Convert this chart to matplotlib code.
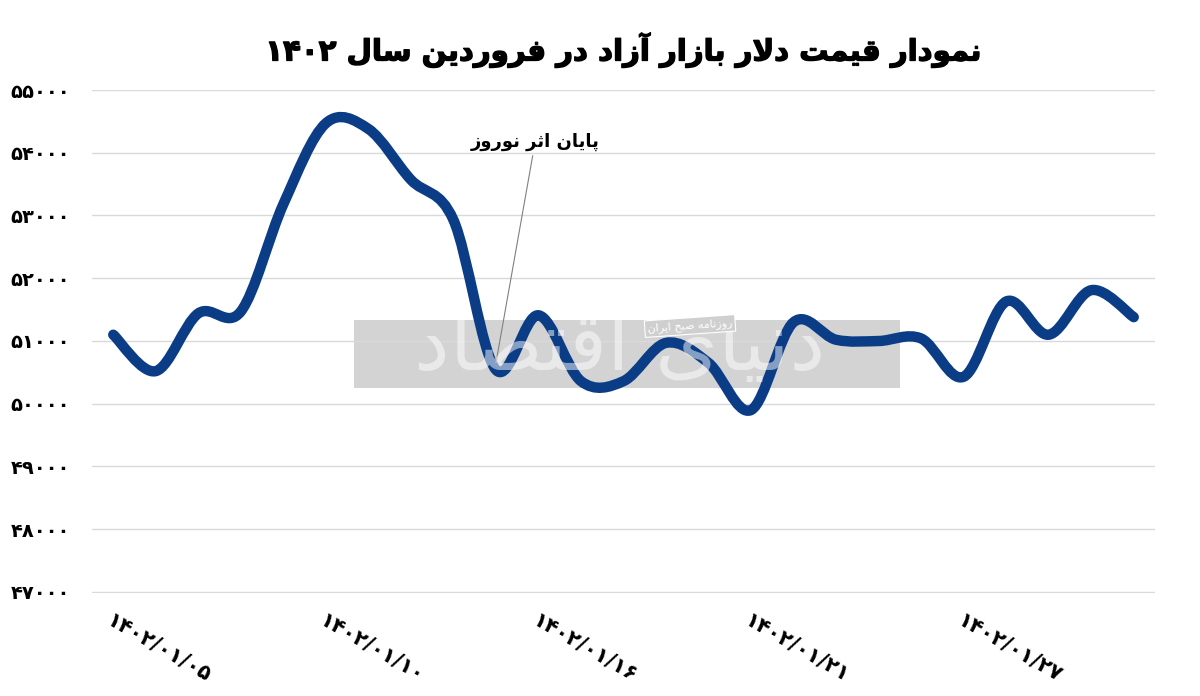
import re
import matplotlib
matplotlib.use("Agg")
import matplotlib.pyplot as plt
import matplotlib.patheffects as pe
from matplotlib.path import Path
from matplotlib.patches import PathPatch, Rectangle
from matplotlib.ticker import FuncFormatter

# ---------------- data ----------------
dates = ["1402/01/05", "1402/01/06", "1402/01/07", "1402/01/08", "1402/01/09",
         "1402/01/10", "1402/01/11", "1402/01/12", "1402/01/14", "1402/01/15",
         "1402/01/16", "1402/01/17", "1402/01/18", "1402/01/19", "1402/01/20",
         "1402/01/21", "1402/01/22", "1402/01/23", "1402/01/24", "1402/01/26",
         "1402/01/27", "1402/01/28", "1402/01/29", "1402/01/30", "1402/01/31"]
prices = [51100, 50520, 51440, 51470, 53180, 54470, 54380, 53570, 52930, 50540,
          51410, 50360, 50360, 50970, 50650, 49900, 51300, 51020, 51000, 51040,
          50430, 51630, 51100, 51810, 51380]
y_ticks = [47000, 48000, 49000, 50000, 51000, 52000, 53000, 54000, 55000]
label_every = 5
title_text = "نمودار قیمت دلار بازار آزاد در فروردین سال 1402"
note_text = "پایان اثر نوروز"
note_index = 9
watermark_big = "دنیای اقتصاد"
watermark_small = "روزنامه صبح ایران"

# ---------------- Persian shaping helpers ----------------
FA_DIGITS = str.maketrans("0123456789", "۰۱۲۳۴۵۶۷۸۹")

FORMS = {
    'ا': (0xFE8D, 0xFE8E, None, None),
    'آ': (0xFE81, 0xFE82, None, None),
    'ب': (0xFE8F, 0xFE90, 0xFE91, 0xFE92),
    'پ': (0xFB56, 0xFB57, 0xFB58, 0xFB59),
    'ت': (0xFE95, 0xFE96, 0xFE97, 0xFE98),
    'ث': (0xFE99, 0xFE9A, 0xFE9B, 0xFE9C),
    'ح': (0xFEA1, 0xFEA2, 0xFEA3, 0xFEA4),
    'د': (0xFEA9, 0xFEAA, None, None),
    'ر': (0xFEAD, 0xFEAE, None, None),
    'ز': (0xFEAF, 0xFEB0, None, None),
    'س': (0xFEB1, 0xFEB2, 0xFEB3, 0xFEB4),
    'ص': (0xFEB9, 0xFEBA, 0xFEBB, 0xFEBC),
    'ف': (0xFED1, 0xFED2, 0xFED3, 0xFED4),
    'ق': (0xFED5, 0xFED6, 0xFED7, 0xFED8),
    'ل': (0xFEDD, 0xFEDE, 0xFEDF, 0xFEE0),
    'م': (0xFEE1, 0xFEE2, 0xFEE3, 0xFEE4),
    'ن': (0xFEE5, 0xFEE6, 0xFEE7, 0xFEE8),
    'ه': (0xFEE9, 0xFEEA, 0xFEEB, 0xFEEC),
    'و': (0xFEED, 0xFEEE, None, None),
    'ی': (0xFBFC, 0xFBFD, 0xFBFE, 0xFBFF),
}


def _dual(c):
    return c in FORMS and FORMS[c][2] is not None


def shape(s):
    out = []
    i, n = 0, len(s)
    while i < n:
        c = s[i]
        prev = s[i - 1] if i > 0 else ''
        if c == 'ل' and i + 1 < n and s[i + 1] in 'اآ':
            jp = _dual(prev)
            if s[i + 1] == 'ا':
                out.append(chr(0xFEFC if jp else 0xFEFB))
            else:
                out.append(chr(0xFEF6 if jp else 0xFEF5))
            i += 2
            continue
        if c not in FORMS:
            out.append(c)
            i += 1
            continue
        nxt = s[i + 1] if i + 1 < n else ''
        jp = _dual(prev)
        jn = _dual(c) and nxt in FORMS
        f = FORMS[c]
        code = f[3] if (jp and jn) else f[1] if jp else f[2] if jn else f[0]
        out.append(chr(code))
        i += 1
    return ''.join(out)


def rtl(s):
    t = shape(s.translate(FA_DIGITS))[::-1]
    return re.sub(r'[۰-۹0-9/]+', lambda m: m.group(0)[::-1], t)


def fa(s):
    return s.translate(FA_DIGITS)


# ---------------- figure ----------------
plt.rcParams['font.family'] = ['DejaVu Sans']
fig = plt.figure(figsize=(12, 6.96), dpi=100)
ax = fig.add_axes([92 / 1200, 1 - 593 / 696, (1155 - 92) / 1200, (593 - 90) / 696])

LINE = '#0b3d87'
GRID = '#d9d9d9'

x = list(range(len(prices)))
ax.set_xlim(-0.5, len(prices) - 0.5)
ax.set_ylim(y_ticks[0] - 16, y_ticks[-1])

# watermark box (behind the line)
ax.add_patch(Rectangle((354 / 1200, 1 - 388 / 696), (900 - 354) / 1200, 68 / 696,
                       transform=fig.transFigure, facecolor='#d3d3d3',
                       edgecolor='none', zorder=0.2, clip_on=False))

# smoothed line (Excel-like Catmull-Rom Bezier)
pts = list(zip(x, prices))
verts = [pts[0]]
codes = [Path.MOVETO]
for i in range(len(pts) - 1):
    p0 = pts[i - 1] if i > 0 else pts[i]
    p1 = pts[i]
    p2 = pts[i + 1]
    p3 = pts[i + 2] if i + 2 < len(pts) else pts[i + 1]
    c1 = (p1[0] + (p2[0] - p0[0]) / 6, p1[1] + (p2[1] - p0[1]) / 6)
    c2 = (p2[0] - (p3[0] - p1[0]) / 6, p2[1] - (p3[1] - p1[1]) / 6)
    verts += [c1, c2, p2]
    codes += [Path.CURVE4] * 3
ax.add_patch(PathPatch(Path(verts, codes), fill=False, edgecolor=LINE,
                       lw=7.5, capstyle='round', joinstyle='round', zorder=3))

# grid & axes styling
ax.set_yticks(y_ticks)
ax.yaxis.set_major_formatter(FuncFormatter(lambda v, p: fa(f"{int(v)}")))
ax.grid(axis='y', color=GRID, lw=1.0, zorder=0.5)
ax.set_axisbelow(True)
for sp in ax.spines.values():
    sp.set_visible(False)
ax.tick_params(axis='y', length=0, pad=16, labelsize=14, labelcolor='black')
for t in ax.get_yticklabels():
    t.set_fontweight('bold')

tick_pos = x[::label_every]
ax.set_xticks(tick_pos, [fa(d) for d in dates[::label_every]])
ax.tick_params(axis='x', length=0, pad=12)
for t in ax.get_xticklabels():
    t.set_rotation(-30)
    t.set_rotation_mode('anchor')
    t.set_ha('left')
    t.set_va('top')
    t.set_fontsize(15)
    t.set_fontweight('bold')

# title
fig.text(623 / 1200, 1 - 50 / 696, rtl(title_text), ha='center', va='center',
         fontsize=21, fontweight='bold', color='black',
         path_effects=[pe.withStroke(linewidth=1.0, foreground='black')])

# annotation
ax.annotate(rtl(note_text), xy=(note_index, prices[note_index] + 110),
            xytext=(9.92, 54020), ha='center', va='bottom',
            fontsize=13, fontweight='bold', color='black',
            arrowprops=dict(arrowstyle='-', color='#808080', lw=0.8,
                            shrinkA=1, shrinkB=0), zorder=6)

# watermark text
fig.text(620 / 1200, 1 - 348 / 696, rtl(watermark_big), ha='center', va='center',
         fontsize=58, color='white', alpha=0.5, zorder=5)
fig.text(690 / 1200, 1 - 326 / 696, rtl(watermark_small), ha='center', va='center',
         fontsize=8, color='white', rotation=4, zorder=5,
         bbox=dict(boxstyle='square,pad=0.25', facecolor='#cfcfcf', edgecolor='white', lw=0.8))

fig.savefig('out.png', dpi=100, facecolor='white')
